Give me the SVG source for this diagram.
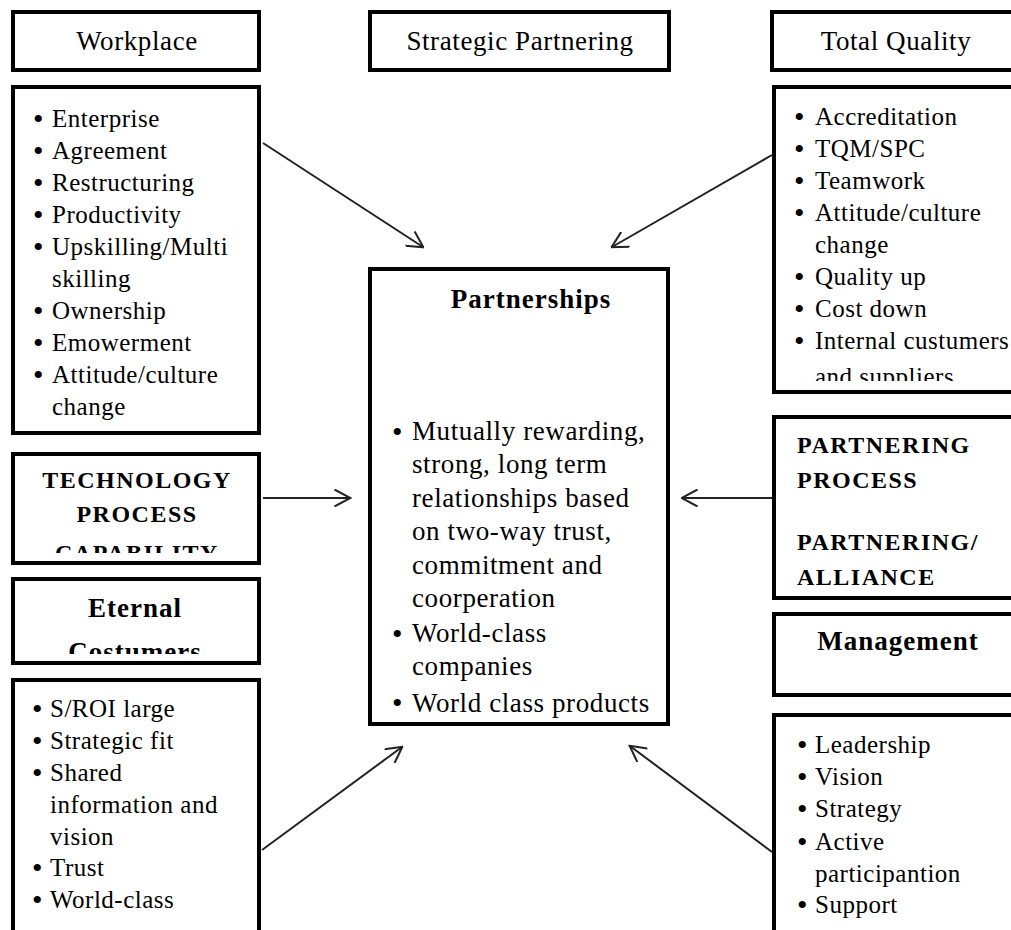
<svg xmlns="http://www.w3.org/2000/svg" width="1011" height="930" viewBox="0 0 1011 930">
<style>
  .box { fill: #fff; stroke: #000; stroke-width: 4; }
  .hd { font-family: "Liberation Serif", "Times New Roman", serif; font-size: 27px; fill: #000; text-anchor: middle; letter-spacing: 0.6px; }
  .hb { font-family: "Liberation Serif", "Times New Roman", serif; font-size: 27px; font-weight: bold; fill: #000; text-anchor: middle; letter-spacing: 1px; }
  .cap { font-family: "Liberation Serif", "Times New Roman", serif; font-size: 24px; font-weight: bold; fill: #000; letter-spacing: 1.5px; }
  .li { font-family: "Liberation Serif", "Times New Roman", serif; font-size: 25px; fill: #000; letter-spacing: 0.5px; }
  .lc { font-family: "Liberation Serif", "Times New Roman", serif; font-size: 27px; fill: #000; letter-spacing: 0.6px; }
  .bl { font-family: "Liberation Serif", "Times New Roman", serif; font-size: 30px; fill: #000; }
  .conn { stroke: #222; stroke-width: 2; fill: none; marker-end: url(#arr); }
</style>
<defs>
  <marker id="arr" viewBox="0 0 18 18" refX="16.5" refY="9" markerWidth="18" markerHeight="18" markerUnits="userSpaceOnUse" orient="auto">
    <path d="M1,0.5 L17,9 L1,17.5" fill="none" stroke="#222" stroke-width="2"/>
  </marker>
  <clipPath id="cTech"><rect x="15" y="456" width="242" height="97"/></clipPath>
  <clipPath id="cEtern"><rect x="15" y="581" width="242" height="73"/></clipPath>
  <clipPath id="cTQ"><rect x="776" y="89" width="240" height="292"/></clipPath>
  <clipPath id="cCenter"><rect x="372" y="271" width="294" height="447"/></clipPath>
</defs>
<rect width="1011" height="930" fill="#fff"/>

<g id="connectors">
  <line class="conn" x1="263" y1="143" x2="423" y2="247"/>
  <line class="conn" x1="772" y1="155" x2="612" y2="247"/>
  <line class="conn" x1="263" y1="498" x2="350" y2="498"/>
  <line class="conn" x1="772" y1="498" x2="682" y2="498"/>
  <line class="conn" x1="262" y1="850" x2="402" y2="747"/>
  <line class="conn" x1="772" y1="852" x2="630" y2="746"/>
</g>

<g id="workplace">
  <rect class="box" x="13" y="12" width="246" height="58"/>
  <text class="hd" x="137" y="50">Workplace</text>
</g>

<g id="workplace-list">
  <rect class="box" x="13" y="87" width="246" height="346"/>
  <g class="bl"><text x="33" y="129">•</text><text x="33" y="161">•</text><text x="33" y="193">•</text><text x="33" y="225">•</text><text x="33" y="257">•</text><text x="33" y="321">•</text><text x="33" y="353">•</text><text x="33" y="385">•</text></g>
  <text class="li" x="52" y="127">Enterprise</text>
  <text class="li" x="52" y="159">Agreement</text>
  <text class="li" x="52" y="191">Restructuring</text>
  <text class="li" x="52" y="223">Productivity</text>
  <text class="li" x="52" y="255">Upskilling/Multi</text>
  <text class="li" x="52" y="287">skilling</text>
  <text class="li" x="52" y="319">Ownership</text>
  <text class="li" x="52" y="351">Emowerment</text>
  <text class="li" x="52" y="383">Attitude/culture</text>
  <text class="li" x="52" y="415">change</text>
</g>

<g id="strategic-partnering">
  <rect class="box" x="370" y="12" width="299" height="58"/>
  <text class="hd" x="520" y="50">Strategic Partnering</text>
</g>

<g id="total-quality">
  <rect class="box" x="772" y="12" width="300" height="58"/>
  <text class="hd" x="896" y="50">Total Quality</text>
</g>

<g id="total-quality-list">
  <rect class="box" x="774" y="87" width="300" height="305"/>
  <g clip-path="url(#cTQ)">
    <g class="bl"><text x="794" y="127">•</text><text x="794" y="159">•</text><text x="794" y="191">•</text><text x="794" y="223">•</text><text x="794" y="287">•</text><text x="794" y="319">•</text><text x="794" y="351">•</text></g>
    <text class="li" x="815" y="125">Accreditation</text>
    <text class="li" x="815" y="157">TQM/SPC</text>
    <text class="li" x="815" y="189">Teamwork</text>
    <text class="li" x="815" y="221">Attitude/culture</text>
    <text class="li" x="815" y="253">change</text>
    <text class="li" x="815" y="285">Quality up</text>
    <text class="li" x="815" y="317">Cost down</text>
    <text class="li" x="815" y="349">Internal custumers</text>
    <text class="li" x="815" y="385">and suppliers</text>
  </g>
</g>

<g id="partnerships">
  <rect class="box" x="370" y="269" width="298" height="455"/>
  <text class="hb" x="531" y="308">Partnerships</text>
  <g clip-path="url(#cCenter)">
    <g class="bl"><text x="392" y="442">•</text><text x="392" y="644">•</text><text x="392" y="713">•</text></g>
    <text class="lc" x="412" y="440">Mutually rewarding,</text>
    <text class="lc" x="412" y="473">strong, long term</text>
    <text class="lc" x="412" y="507">relationships based</text>
    <text class="lc" x="412" y="540">on two-way trust,</text>
    <text class="lc" x="412" y="574">commitment and</text>
    <text class="lc" x="412" y="607">coorperation</text>
    <text class="lc" x="412" y="642">World-class</text>
    <text class="lc" x="412" y="675">companies</text>
    <text class="lc" x="412" y="712">World class products</text>
  </g>
</g>

<g id="technology">
  <rect class="box" x="13" y="454" width="246" height="109"/>
  <g clip-path="url(#cTech)">
    <text class="cap" x="137" y="488" text-anchor="middle">TECHNOLOGY</text>
    <text class="cap" x="137" y="522" text-anchor="middle">PROCESS</text>
    <text class="cap" x="137" y="561" text-anchor="middle">CAPABILITY</text>
  </g>
</g>

<g id="partnering-process">
  <rect class="box" x="774" y="417" width="300" height="181"/>
  <text class="cap" x="797" y="453">PARTNERING</text>
  <text class="cap" x="797" y="488">PROCESS</text>
  <text class="cap" x="797" y="550">PARTNERING/</text>
  <text class="cap" x="797" y="585">ALLIANCE</text>
</g>

<g id="eternal-costumers">
  <rect class="box" x="13" y="579" width="246" height="84"/>
  <g clip-path="url(#cEtern)">
    <text class="hb" x="135" y="617">Eternal</text>
    <text class="hb" x="135" y="661">Costumers</text>
  </g>
</g>

<g id="management">
  <rect class="box" x="774" y="614" width="300" height="81"/>
  <text class="hb" x="898" y="650">Management</text>
</g>

<g id="eternal-list">
  <rect class="box" x="13" y="680" width="246" height="270"/>
  <g class="bl"><text x="32" y="719">•</text><text x="32" y="751">•</text><text x="32" y="783">•</text><text x="32" y="878">•</text><text x="32" y="910">•</text></g>
  <text class="li" x="50" y="717">S/ROI large</text>
  <text class="li" x="50" y="749">Strategic fit</text>
  <text class="li" x="50" y="781">Shared</text>
  <text class="li" x="50" y="813">information and</text>
  <text class="li" x="50" y="845">vision</text>
  <text class="li" x="50" y="876">Trust</text>
  <text class="li" x="50" y="908">World-class</text>
</g>

<g id="management-list">
  <rect class="box" x="774" y="715" width="300" height="235"/>
  <g class="bl"><text x="797" y="755">•</text><text x="797" y="787">•</text><text x="797" y="819">•</text><text x="797" y="852">•</text><text x="797" y="915">•</text></g>
  <text class="li" x="815" y="753">Leadership</text>
  <text class="li" x="815" y="785">Vision</text>
  <text class="li" x="815" y="817">Strategy</text>
  <text class="li" x="815" y="850">Active</text>
  <text class="li" x="815" y="882">participantion</text>
  <text class="li" x="815" y="913">Support</text>
</g>
</svg>
